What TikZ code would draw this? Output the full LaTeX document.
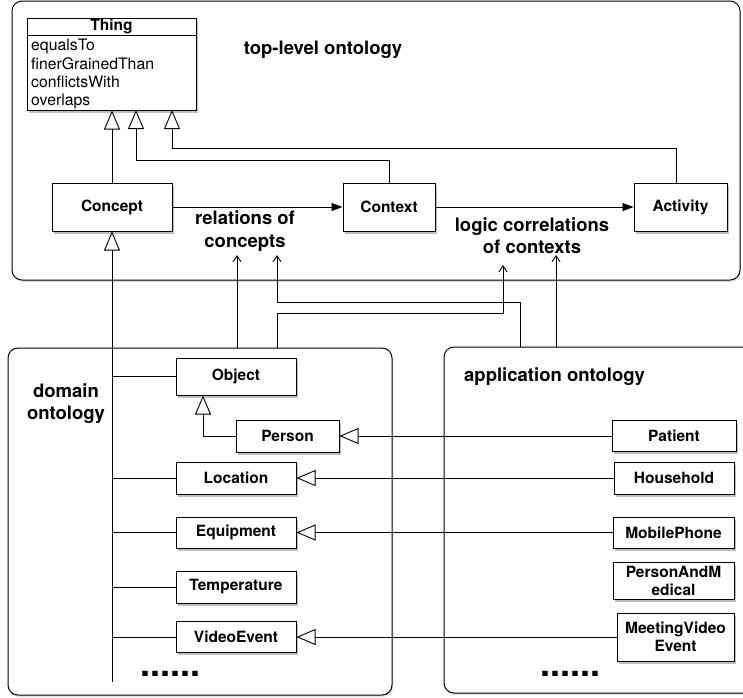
\documentclass[tikz,border=0pt]{standalone}
\usepackage{fontspec}
\setmainfont{TeX Gyre Heros}
\usetikzlibrary{arrows.meta,shadows}
\tikzset{
  shad/.style={drop shadow={shadow xshift=1.5pt, shadow yshift=-2.5pt, fill=black, opacity=0.25}},
  box/.style={draw, line width=1pt, fill=white, inner sep=0pt, align=center,
    font=\bfseries\fontsize{15.5}{18}\selectfont, shad},
  container/.style={draw, line width=1pt, rounded corners=10pt, fill=white, inner sep=0pt,
    drop shadow={shadow xshift=1pt, shadow yshift=-2pt, fill=black, opacity=0.12}},
  lbl/.style={font=\bfseries\fontsize{18.5}{22.5}\selectfont, align=center, inner sep=0pt},
  dotslbl/.style={font=\bfseries\fontsize{36}{36}\selectfont, inner sep=0pt, anchor=base},
  conn/.style={line width=0.9pt},
  inh/.style={conn, -{Triangle[open, length=19pt, width=16pt, line width=0.9pt]}},
  flow/.style={conn, -{Triangle[length=11pt, width=8pt]}},
  stick/.style={conn, -{Straight Barb[length=6pt, width=8pt, line width=0.9pt]}},
}
\begin{document}
\begin{tikzpicture}[x=1pt, y=-1pt]
\useasboundingbox (0,0) rectangle (743,697);
\begin{scope}
\clip (0,0) rectangle (743,697);
% containers
\node[container, minimum width=728pt, minimum height=279pt] (top) at (376,140.5) {};
\node[container, minimum width=384pt, minimum height=347pt] (domain) at (200,521.5) {};
\node[container, minimum width=326pt, minimum height=346pt] (app) at (607,520) {};
\end{scope}

\node[lbl] (toplbl) at (323,50) {top-level ontology};
\node[lbl] (domlbl) at (66,403.5) {domain\\ontology};
\node[lbl, anchor=west] (applbl) at (464,377) {application ontology};

% Thing class
\node[draw, line width=1pt, fill=white, minimum width=169pt, minimum height=92pt, inner sep=0pt, shad] (thing) at (111.5,64) {};
\draw[line width=0.9pt] (27,35) -- (196,35);
\node[font=\bfseries\fontsize{15.5}{18}\selectfont, inner sep=0pt] (thingname) at (111.5,26.5) {Thing};
\node[font=\fontsize{15.8}{18.3}\selectfont, align=left, anchor=north west, inner sep=0pt] (thingattr) at (31,39)
  {equalsTo\\finerGrainedThan\\conflictsWith\\overlaps};

% top-level nodes
\node[box, minimum width=120pt, minimum height=48pt] (concept) at (112,207) {Concept};
\node[box, minimum width=92pt, minimum height=48pt] (context) at (389,207) {Context};
\node[box, minimum width=93pt, minimum height=48pt] (activity) at (680.5,207) {Activity};

\node[lbl] (rel) at (245,231) {relations of\\concepts};
\node[lbl] (logic) at (532,235.5) {logic correlations\\of contexts};

% domain nodes
\node[box, minimum width=120pt, minimum height=37pt] (object) at (236,376.5) {Object};
\node[box, minimum width=103pt, minimum height=32pt] (person) at (287.5,436) {Person};
\node[box, minimum width=120pt, minimum height=32pt] (location) at (236,478) {Location};
\node[box, minimum width=120pt, minimum height=31pt] (equipment) at (236,532.5) {Equipment};
\node[box, minimum width=120pt, minimum height=32pt] (temperature) at (236,587) {Temperature};
\node[box, minimum width=120pt, minimum height=31pt] (videoevent) at (236,637) {VideoEvent};
\node[dotslbl] (domdots) at (170.5,676) {......};

% application nodes
\node[box, minimum width=124pt, minimum height=31pt] (patient) at (674,436) {Patient};
\node[box, minimum width=120pt, minimum height=32pt] (household) at (674,478) {Household};
\node[box, minimum width=121pt, minimum height=31pt] (mobilephone) at (673.5,532.5) {MobilePhone};
\node[box, minimum width=121pt, minimum height=37pt] (pam) at (673.5,580.5) {PersonAndM\\edical};
\node[box, minimum width=117pt, minimum height=48pt] (meeting) at (675.5,637) {MeetingVideo\\Event};
\node[dotslbl] (appdots) at (570.5,676) {......};

% coordinates
\coordinate (t2) at (136,110);
\coordinate (t3) at (172,110);
\coordinate (cbot) at (112,682);
\coordinate (r1) at (237,255);
\coordinate (r2) at (277,255);
\coordinate (l1) at (503,265);
\coordinate (l2) at (556,255);

% inheritance to Thing
\draw[inh] (concept.north) -- (concept.north |- thing.south);
\draw[inh] (context.north) -- (389,160) -- (136,160) -- (t2);
\draw[inh] ([xshift=-4.5pt]activity.north) -- (676,148) -- (172,148) -- (t3);

% flows
\draw[flow] (concept.east) -- (context.west);
\draw[flow] (context.east) -- (activity.west);

% domain spine
\draw[inh] (cbot) -- (concept.south);
\draw[conn] (object.west -| cbot) -- (object.west);
\draw[conn] (location.west -| cbot) -- (location.west);
\draw[conn] (equipment.west -| cbot) -- (equipment.west);
\draw[conn] (temperature.west -| cbot) -- (temperature.west);
\draw[conn] (videoevent.west -| cbot) -- (videoevent.west);
\draw[inh] (person.west) -| ([xshift=-33pt]object.south);

% application to domain
\draw[inh] (patient.west) -- (person.east);
\draw[inh] (household.west) -- (location.east);
\draw[inh] (mobilephone.west) -- (equipment.east);
\draw[inh] (meeting.west) -- (videoevent.east);

% cross-layer arrows
\draw[stick] (domain.north -| r1) -- (r1);
\draw[stick] (domain.north -| r2) -- (277,313) -- (503,313) -- (l1);
\draw[stick] (app.north -| 520,0) -- (520,302) -- (277,302) -- (r2);
\draw[stick] (app.north -| l2) -- (l2);
\end{tikzpicture}
\end{document}
